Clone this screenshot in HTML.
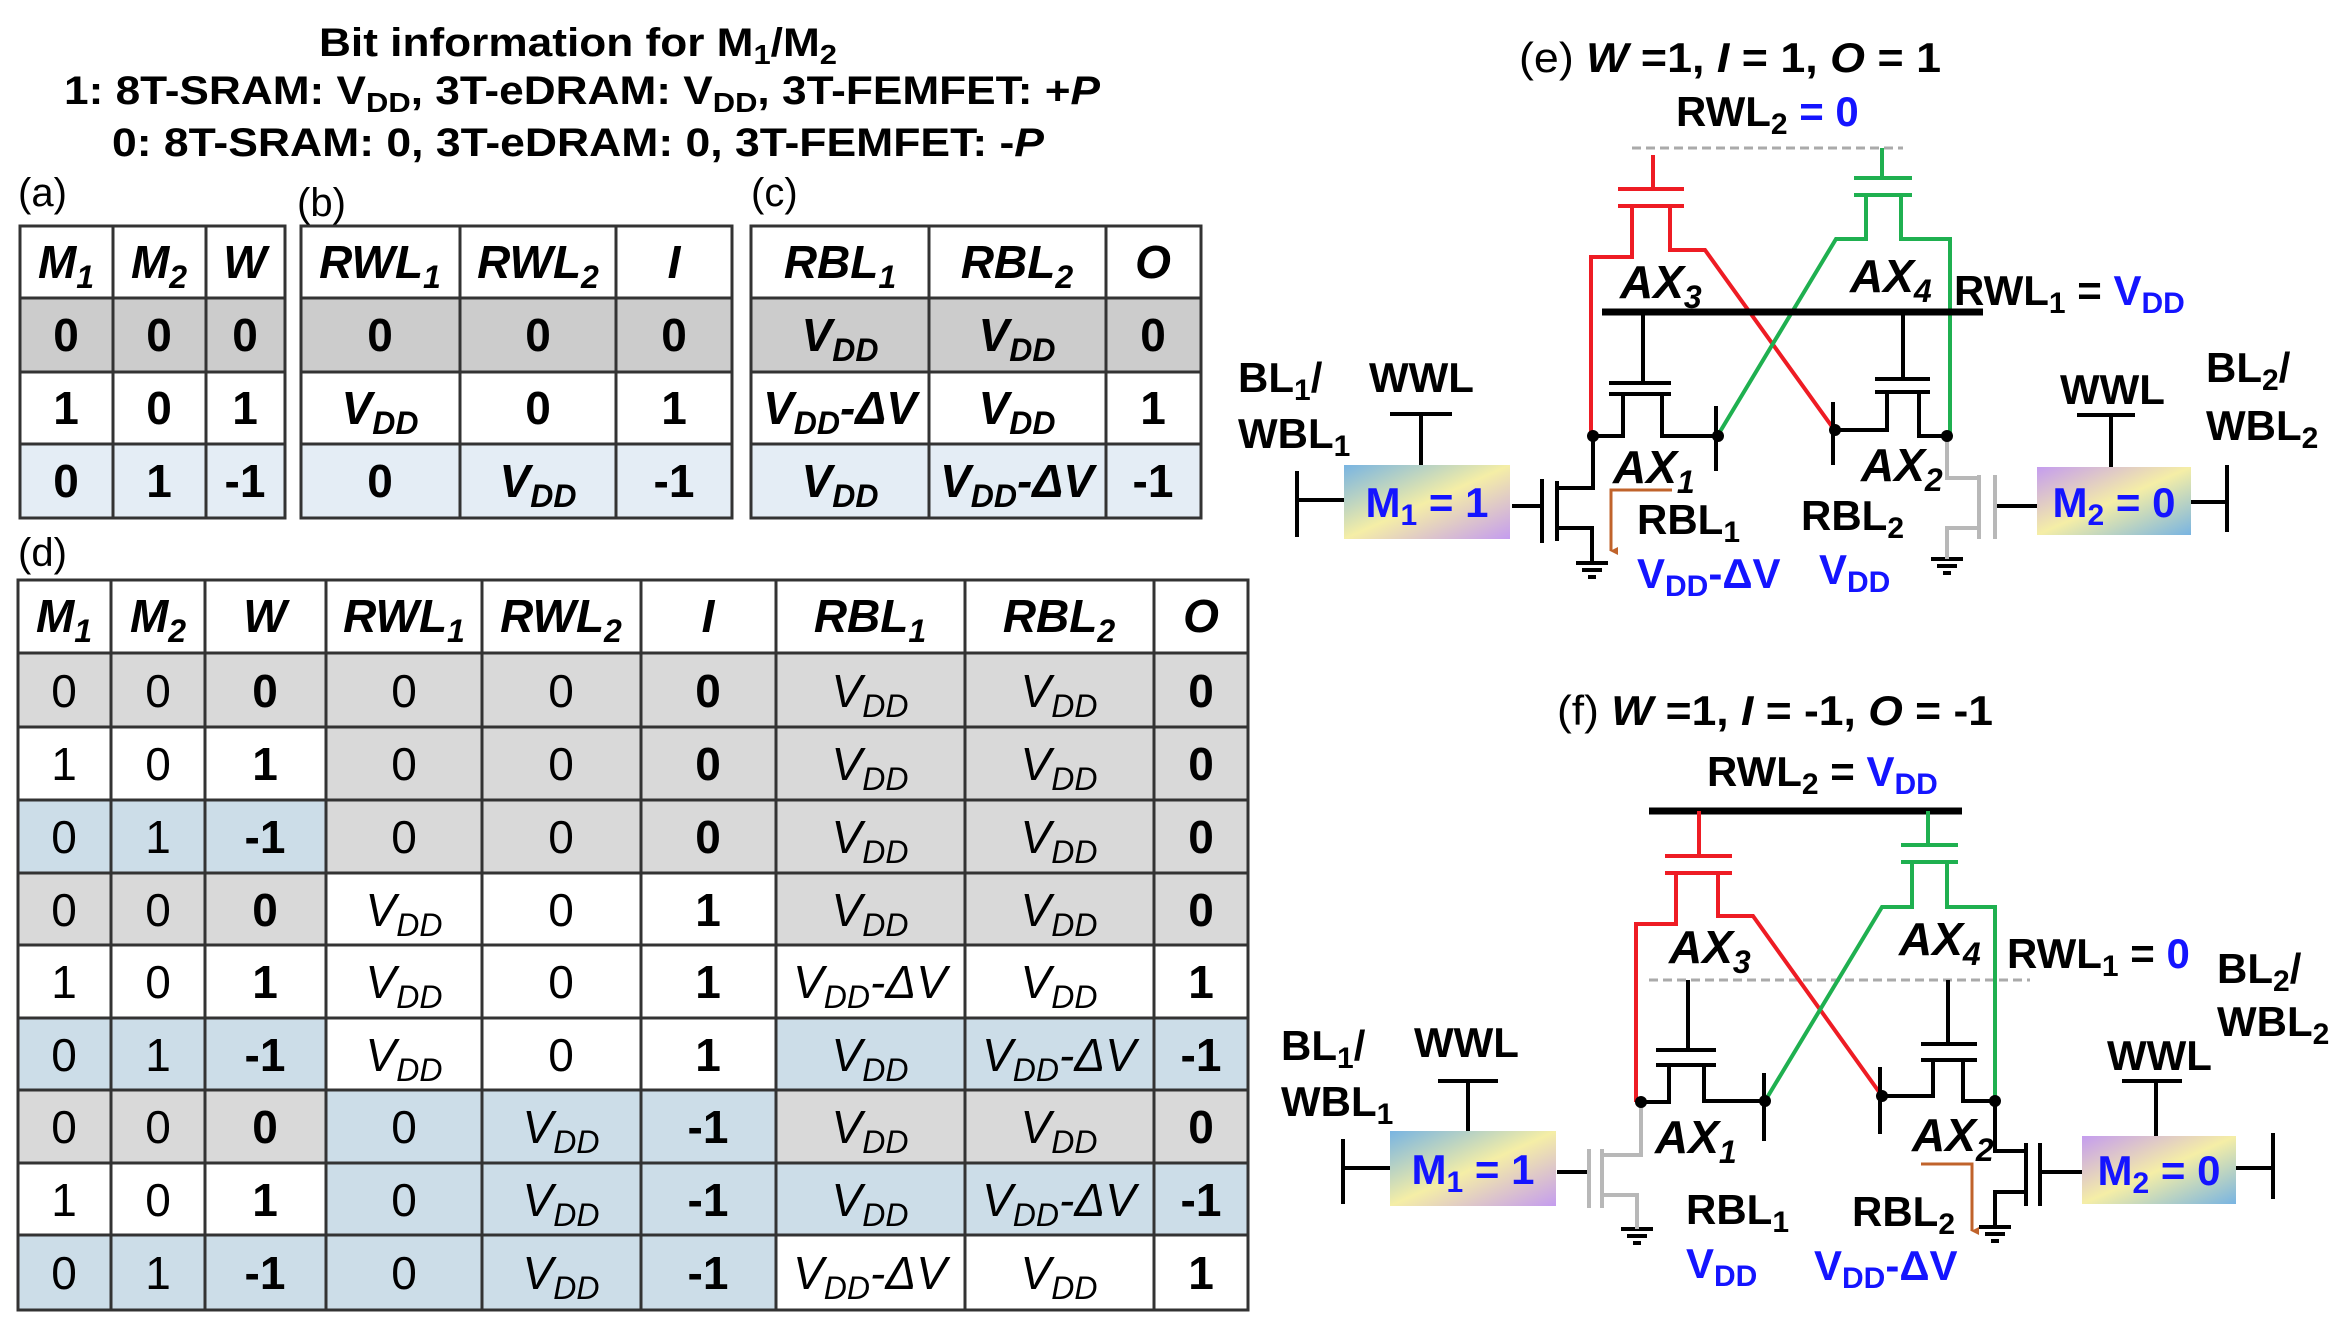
<!DOCTYPE html>
<html><head><meta charset="utf-8"><style>
html,body{margin:0;padding:0;background:#fff;}
svg{display:block;}
text{font-family:"Liberation Sans Narrow","Liberation Sans",sans-serif;font-weight:bold;fill:#000;}
.r{font-weight:normal;}
.it{font-style:italic;}
.b{fill:#1414ff;}
</style></head><body>
<svg width="2344" height="1321" viewBox="0 0 2344 1321" xmlns="http://www.w3.org/2000/svg">
<defs>
<linearGradient id="mg" x1="0" y1="0" x2="1" y2="1">
<stop offset="0" stop-color="#78b4e2"/><stop offset="0.5" stop-color="#f5eea6"/><stop offset="1" stop-color="#c49cef"/>
</linearGradient>
<marker id="ar" markerWidth="8" markerHeight="8" refX="4" refY="7" orient="auto" markerUnits="userSpaceOnUse"><path d="M0,0 L8,0 L4,8 z" fill="#c0632b"/></marker>
</defs>

<!-- Title -->
<text x="319" y="56" font-size="40" textLength="518" lengthAdjust="spacingAndGlyphs">Bit information for M<tspan dy="8" font-size="28">1</tspan><tspan dy="-8">/M</tspan><tspan dy="8" font-size="28">2</tspan></text>
<text x="64" y="104" font-size="40" textLength="1036" lengthAdjust="spacingAndGlyphs">1: 8T-SRAM: V<tspan dy="8" font-size="28">DD</tspan><tspan dy="-8">, 3T-eDRAM: V</tspan><tspan dy="8" font-size="28">DD</tspan><tspan dy="-8">, 3T-FEMFET: +</tspan><tspan class="it">P</tspan></text>
<text x="112" y="156" font-size="40" textLength="932" lengthAdjust="spacingAndGlyphs">0: 8T-SRAM: 0, 3T-eDRAM: 0, 3T-FEMFET: -<tspan class="it">P</tspan></text>

<text x="18" y="206" font-size="40" class="r">(a)</text>
<text x="297" y="216" font-size="40" class="r">(b)</text>
<text x="751" y="206" font-size="40" class="r">(c)</text>

<g>
<rect x="20" y="298" width="265" height="74" fill="#cccccc"/>
<rect x="301" y="298" width="431" height="74" fill="#cccccc"/>
<rect x="751" y="298" width="450" height="74" fill="#cccccc"/>
<rect x="20" y="444" width="265" height="74" fill="#e4edf5"/>
<rect x="301" y="444" width="431" height="74" fill="#e4edf5"/>
<rect x="751" y="444" width="450" height="74" fill="#e4edf5"/>
</g>
<g stroke="#333" stroke-width="3" fill="none">
<rect x="20" y="226" width="265" height="292"/>
<rect x="301" y="226" width="431" height="292"/>
<rect x="751" y="226" width="450" height="292"/>
<path d="M113 226V518M206 226V518M460 226V518M616 226V518M929 226V518M1106 226V518"/>
<path d="M20 298H285M20 372H285M20 444H285M301 298H732M301 372H732M301 444H732M751 298H1201M751 372H1201M751 444H1201"/>
</g>
<g font-size="46" text-anchor="middle">
<text x="66" y="278" class="it">M<tspan dy="10" font-size="32">1</tspan></text>
<text x="159" y="278" class="it">M<tspan dy="10" font-size="32">2</tspan></text>
<text x="245" y="278" class="it">W</text>
<text x="380" y="278" class="it">RWL<tspan dy="10" font-size="32">1</tspan></text>
<text x="538" y="278" class="it">RWL<tspan dy="10" font-size="32">2</tspan></text>
<text x="674" y="278" class="it">I</text>
<text x="840" y="278" class="it">RBL<tspan dy="10" font-size="32">1</tspan></text>
<text x="1017" y="278" class="it">RBL<tspan dy="10" font-size="32">2</tspan></text>
<text x="1153" y="278" class="it">O</text>

<text x="66" y="351">0</text><text x="159" y="351">0</text><text x="245" y="351">0</text>
<text x="380" y="351">0</text><text x="538" y="351">0</text><text x="674" y="351">0</text>
<text x="840" y="351" class="it">V<tspan dy="10" font-size="32">DD</tspan></text>
<text x="1017" y="351" class="it">V<tspan dy="10" font-size="32">DD</tspan></text>
<text x="1153" y="351">0</text>

<text x="66" y="424">1</text><text x="159" y="424">0</text><text x="245" y="424">1</text>
<text x="380" y="424" class="it">V<tspan dy="10" font-size="32">DD</tspan></text>
<text x="538" y="424">0</text><text x="674" y="424">1</text>
<text x="840" y="424" class="it">V<tspan dy="10" font-size="32">DD</tspan><tspan dy="-10">-ΔV</tspan></text>
<text x="1017" y="424" class="it">V<tspan dy="10" font-size="32">DD</tspan></text>
<text x="1153" y="424">1</text>

<text x="66" y="497">0</text><text x="159" y="497">1</text><text x="245" y="497">-1</text>
<text x="380" y="497">0</text>
<text x="538" y="497" class="it">V<tspan dy="10" font-size="32">DD</tspan></text>
<text x="674" y="497">-1</text>
<text x="840" y="497" class="it">V<tspan dy="10" font-size="32">DD</tspan></text>
<text x="1017" y="497" class="it">V<tspan dy="10" font-size="32">DD</tspan><tspan dy="-10">-ΔV</tspan></text>
<text x="1153" y="497">-1</text>
</g>

<!-- Table d -->
<text x="18" y="566" font-size="40" class="r">(d)</text>
<g>
<rect x="18" y="653" width="1230" height="74" fill="#d9d9d9"/>
<rect x="326" y="727" width="922" height="73" fill="#d9d9d9"/>
<rect x="18" y="800" width="308" height="73" fill="#ccdde8"/>
<rect x="326" y="800" width="922" height="73" fill="#d9d9d9"/>
<rect x="18" y="873" width="308" height="72" fill="#d9d9d9"/>
<rect x="776" y="873" width="472" height="72" fill="#d9d9d9"/>
<rect x="18" y="1018" width="308" height="72" fill="#ccdde8"/>
<rect x="776" y="1018" width="472" height="72" fill="#ccdde8"/>
<rect x="18" y="1090" width="308" height="73" fill="#d9d9d9"/>
<rect x="326" y="1090" width="450" height="73" fill="#ccdde8"/>
<rect x="776" y="1090" width="472" height="73" fill="#d9d9d9"/>
<rect x="326" y="1163" width="922" height="72" fill="#ccdde8"/>
<rect x="18" y="1235" width="758" height="75" fill="#ccdde8"/>
</g>
<g stroke="#333" stroke-width="3" fill="none">
<rect x="18" y="580" width="1230" height="730"/>
<path d="M111 580V1310M205 580V1310M326 580V1310M482 580V1310M641 580V1310M776 580V1310M965 580V1310M1154 580V1310"/>
<path d="M18 653H1248M18 727H1248M18 800H1248M18 873H1248M18 945H1248M18 1018H1248M18 1090H1248M18 1163H1248M18 1235H1248"/>
</g>
<g font-size="46" text-anchor="middle">
<text x="64" y="632" class="it">M<tspan dy="10" font-size="32">1</tspan></text>
<text x="158" y="632" class="it">M<tspan dy="10" font-size="32">2</tspan></text>
<text x="265" y="632" class="it">W</text>
<text x="404" y="632" class="it">RWL<tspan dy="10" font-size="32">1</tspan></text>
<text x="561" y="632" class="it">RWL<tspan dy="10" font-size="32">2</tspan></text>
<text x="708" y="632" class="it">I</text>
<text x="870" y="632" class="it">RBL<tspan dy="10" font-size="32">1</tspan></text>
<text x="1059" y="632" class="it">RBL<tspan dy="10" font-size="32">2</tspan></text>
<text x="1201" y="632" class="it">O</text>
</g>
<g font-size="46" text-anchor="middle">
<text x="64" y="707" class="r">0</text><text x="158" y="707" class="r">0</text><text x="265" y="707">0</text>
<text x="404" y="707" class="r">0</text><text x="561" y="707" class="r">0</text><text x="708" y="707">0</text>
<text x="870" y="707" class="r it">V<tspan dy="10" font-size="32">DD</tspan></text>
<text x="1059" y="707" class="r it">V<tspan dy="10" font-size="32">DD</tspan></text>
<text x="1201" y="707">0</text>
<text x="64" y="780" class="r">1</text><text x="158" y="780" class="r">0</text><text x="265" y="780">1</text>
<text x="404" y="780" class="r">0</text><text x="561" y="780" class="r">0</text><text x="708" y="780">0</text>
<text x="870" y="780" class="r it">V<tspan dy="10" font-size="32">DD</tspan></text>
<text x="1059" y="780" class="r it">V<tspan dy="10" font-size="32">DD</tspan></text>
<text x="1201" y="780">0</text>
<text x="64" y="853" class="r">0</text><text x="158" y="853" class="r">1</text><text x="265" y="853">-1</text>
<text x="404" y="853" class="r">0</text><text x="561" y="853" class="r">0</text><text x="708" y="853">0</text>
<text x="870" y="853" class="r it">V<tspan dy="10" font-size="32">DD</tspan></text>
<text x="1059" y="853" class="r it">V<tspan dy="10" font-size="32">DD</tspan></text>
<text x="1201" y="853">0</text>
<text x="64" y="926" class="r">0</text><text x="158" y="926" class="r">0</text><text x="265" y="926">0</text>
<text x="404" y="926" class="r it">V<tspan dy="10" font-size="32">DD</tspan></text>
<text x="561" y="926" class="r">0</text><text x="708" y="926">1</text>
<text x="870" y="926" class="r it">V<tspan dy="10" font-size="32">DD</tspan></text>
<text x="1059" y="926" class="r it">V<tspan dy="10" font-size="32">DD</tspan></text>
<text x="1201" y="926">0</text>
<text x="64" y="998" class="r">1</text><text x="158" y="998" class="r">0</text><text x="265" y="998">1</text>
<text x="404" y="998" class="r it">V<tspan dy="10" font-size="32">DD</tspan></text>
<text x="561" y="998" class="r">0</text><text x="708" y="998">1</text>
<text x="870" y="998" class="r it">V<tspan dy="10" font-size="32">DD</tspan><tspan dy="-10">-ΔV</tspan></text>
<text x="1059" y="998" class="r it">V<tspan dy="10" font-size="32">DD</tspan></text>
<text x="1201" y="998">1</text>
<text x="64" y="1071" class="r">0</text><text x="158" y="1071" class="r">1</text><text x="265" y="1071">-1</text>
<text x="404" y="1071" class="r it">V<tspan dy="10" font-size="32">DD</tspan></text>
<text x="561" y="1071" class="r">0</text><text x="708" y="1071">1</text>
<text x="870" y="1071" class="r it">V<tspan dy="10" font-size="32">DD</tspan></text>
<text x="1059" y="1071" class="r it">V<tspan dy="10" font-size="32">DD</tspan><tspan dy="-10">-ΔV</tspan></text>
<text x="1201" y="1071">-1</text>
<text x="64" y="1143" class="r">0</text><text x="158" y="1143" class="r">0</text><text x="265" y="1143">0</text>
<text x="404" y="1143" class="r">0</text>
<text x="561" y="1143" class="r it">V<tspan dy="10" font-size="32">DD</tspan></text>
<text x="708" y="1143">-1</text>
<text x="870" y="1143" class="r it">V<tspan dy="10" font-size="32">DD</tspan></text>
<text x="1059" y="1143" class="r it">V<tspan dy="10" font-size="32">DD</tspan></text>
<text x="1201" y="1143">0</text>
<text x="64" y="1216" class="r">1</text><text x="158" y="1216" class="r">0</text><text x="265" y="1216">1</text>
<text x="404" y="1216" class="r">0</text>
<text x="561" y="1216" class="r it">V<tspan dy="10" font-size="32">DD</tspan></text>
<text x="708" y="1216">-1</text>
<text x="870" y="1216" class="r it">V<tspan dy="10" font-size="32">DD</tspan></text>
<text x="1059" y="1216" class="r it">V<tspan dy="10" font-size="32">DD</tspan><tspan dy="-10">-ΔV</tspan></text>
<text x="1201" y="1216">-1</text>
<text x="64" y="1289" class="r">0</text><text x="158" y="1289" class="r">1</text><text x="265" y="1289">-1</text>
<text x="404" y="1289" class="r">0</text>
<text x="561" y="1289" class="r it">V<tspan dy="10" font-size="32">DD</tspan></text>
<text x="708" y="1289">-1</text>
<text x="870" y="1289" class="r it">V<tspan dy="10" font-size="32">DD</tspan><tspan dy="-10">-ΔV</tspan></text>
<text x="1059" y="1289" class="r it">V<tspan dy="10" font-size="32">DD</tspan></text>
<text x="1201" y="1289">1</text>
</g>

<!-- ===== (e) circuit ===== -->
<text x="1519" y="72" font-size="42" textLength="422" lengthAdjust="spacingAndGlyphs"><tspan class="r">(e)</tspan>  <tspan class="it">W</tspan> =1, <tspan class="it">I</tspan> = 1, <tspan class="it">O</tspan> = 1</text>
<text x="1676" y="126" font-size="42">RWL<tspan dy="8" font-size="30">2</tspan><tspan dy="-8" class="b"> = 0</tspan></text>
<path d="M1632 148H1903" stroke="#aaa" stroke-width="3" stroke-dasharray="9,5"/>
<g fill="none" stroke-width="4">
<g stroke="#ee1c24">
<path d="M1653 155V189M1618 189H1684M1618 206H1684"/>
<path d="M1632 206V257H1591V436M1670 206V250H1705L1833 428"/>
</g>
<g stroke="#1fb050">
<path d="M1882 148V178M1854 178H1912M1854 195H1912"/>
<path d="M1866 195V239H1836L1718 435M1901 195V239H1950V436"/>
</g>
<g stroke="#000">
<path d="M1602 312H1983" stroke-width="7"/>
<path d="M1643 312V383M1609 383H1671M1609 394H1671M1623 394V436H1593M1662 394V436H1718M1716 406V471"/>
<path d="M1903 312V379M1875 379H1930M1875 392H1930M1887 392V430H1835M1919 392V436H1947M1833 402V465"/>
<path d="M1593 436V488H1557M1557 481V541M1542 479V543M1512 506H1542M1557 528H1592V563"/>
<path d="M1576 563H1608M1582 570H1602M1588 577H1596"/>
<path d="M1297 471V537M1297 500H1344M1390 414H1452M1421 414V465"/>
<path d="M1995 506H2037M2191 502H2227M2227 465V532M2077 415H2135M2111 415V467"/>
<path d="M1931 559H1963M1937 566H1957M1943 573H1951"/>
</g>
<g stroke="#b8b8b8">
<path d="M1947 436V478H1979M1979 475V539M1995 475V539M1979 528H1947V559"/>
</g>
<path d="M1672 490H1611V551" stroke="#c0632b" stroke-width="3" marker-end="url(#ar)"/>
</g>
<g fill="#000"><circle cx="1593" cy="436" r="6"/><circle cx="1718" cy="436" r="6"/><circle cx="1835" cy="430" r="6"/><circle cx="1947" cy="436" r="6"/></g>
<rect x="1344" y="465" width="166" height="74" fill="url(#mg)"/>
<rect x="2037" y="467" width="154" height="68" fill="url(#mg)" transform="rotate(180 2114 501)"/>
<text x="1427" y="517" font-size="42" text-anchor="middle" class="b">M<tspan dy="8" font-size="30">1</tspan><tspan dy="-8"> = 1</tspan></text>
<text x="2114" y="517" font-size="42" text-anchor="middle" class="b">M<tspan dy="8" font-size="30">2</tspan><tspan dy="-8"> = 0</tspan></text>
<text x="1620" y="298" font-size="46" class="it">AX<tspan dy="10" font-size="32">3</tspan></text>
<text x="1850" y="292" font-size="46" class="it">AX<tspan dy="10" font-size="32">4</tspan></text>
<text x="1954" y="305" font-size="42">RWL<tspan dy="8" font-size="30">1</tspan><tspan dy="-8"> = </tspan><tspan class="b">V</tspan><tspan dy="8" font-size="30" class="b">DD</tspan></text>
<text x="1238" y="392" font-size="42">BL<tspan dy="8" font-size="30">1</tspan><tspan dy="-8">/</tspan></text>
<text x="1238" y="448" font-size="42">WBL<tspan dy="8" font-size="30">1</tspan></text>
<text x="1369" y="392" font-size="42">WWL</text>
<text x="2060" y="404" font-size="42">WWL</text>
<text x="2206" y="382" font-size="42">BL<tspan dy="8" font-size="30">2</tspan><tspan dy="-8">/</tspan></text>
<text x="2206" y="440" font-size="42">WBL<tspan dy="8" font-size="30">2</tspan></text>
<text x="1613" y="483" font-size="46" class="it">AX<tspan dy="10" font-size="32">1</tspan></text>
<text x="1861" y="481" font-size="46" class="it">AX<tspan dy="10" font-size="32">2</tspan></text>
<text x="1637" y="534" font-size="42">RBL<tspan dy="8" font-size="30">1</tspan></text>
<text x="1801" y="530" font-size="42">RBL<tspan dy="8" font-size="30">2</tspan></text>
<text x="1637" y="588" font-size="42" class="b">V<tspan dy="8" font-size="30">DD</tspan><tspan dy="-8">-ΔV</tspan></text>
<text x="1819" y="584" font-size="42" class="b">V<tspan dy="8" font-size="30">DD</tspan></text>

<!-- ===== (f) circuit ===== -->
<text x="1557" y="725" font-size="42" textLength="436" lengthAdjust="spacingAndGlyphs"><tspan class="r">(f)</tspan>  <tspan class="it">W</tspan> =1, <tspan class="it">I</tspan> = -1, <tspan class="it">O</tspan> = -1</text>
<text x="1707" y="786" font-size="42">RWL<tspan dy="8" font-size="30">2</tspan><tspan dy="-8"> = </tspan><tspan class="b">V</tspan><tspan dy="8" font-size="30" class="b">DD</tspan></text>
<path d="M1649 980H2030" stroke="#aaa" stroke-width="3" stroke-dasharray="9,5"/>
<g fill="none" stroke-width="4">
<path d="M1649 811H1962" stroke="#000" stroke-width="7"/>
<g stroke="#ee1c24">
<path d="M1699 811V856M1665 856H1732M1665 873H1732"/>
<path d="M1676 873V924H1636V1102M1718 873V916H1753L1882 1096"/>
</g>
<g stroke="#1fb050">
<path d="M1928 811V845M1901 845H1958M1901 862H1958"/>
<path d="M1912 862V907H1882L1765 1101M1947 862V907H1995V1101"/>
</g>
<g stroke="#000">
<path d="M1688 980V1050M1656 1050H1716M1656 1065H1716M1669 1065V1102H1641M1704 1065V1101H1765M1764 1073V1141"/>
<path d="M1948 980V1044M1921 1044H1977M1921 1060H1977M1933 1060V1096H1882M1963 1060V1101H1993M1880 1067V1134"/>
<path d="M1995 1101V1151H2026M2026 1143V1206M2040 1143V1206M2040 1172H2082M2026 1192H1995V1227"/>
<path d="M1979 1227H2011M1985 1234H2005M1991 1241H1999"/>
<path d="M1621 1229H1653M1627 1236H1647M1633 1243H1641"/>
<path d="M1557 1172H1589M1343 1139V1204M1343 1168H1390M1438 1081H1498M1468 1081V1131"/>
<path d="M2236 1168H2273M2273 1133V1199M2122 1081H2182M2156 1081V1136"/>
</g>
<g stroke="#b8b8b8">
<path d="M1641 1102V1155H1602M1602 1149V1208M1589 1149V1208M1602 1195H1637V1229"/>
</g>
<path d="M1921 1164H1972V1231" stroke="#c0632b" stroke-width="3" marker-end="url(#ar)"/>
</g>
<g fill="#000"><circle cx="1641" cy="1102" r="6"/><circle cx="1765" cy="1101" r="6"/><circle cx="1882" cy="1096" r="6"/><circle cx="1995" cy="1101" r="6"/></g>
<rect x="1390" y="1131" width="166" height="75" fill="url(#mg)"/>
<rect x="2082" y="1136" width="154" height="68" fill="url(#mg)" transform="rotate(180 2159 1170)"/>
<text x="1473" y="1184" font-size="42" text-anchor="middle" class="b">M<tspan dy="8" font-size="30">1</tspan><tspan dy="-8"> = 1</tspan></text>
<text x="2159" y="1185" font-size="42" text-anchor="middle" class="b">M<tspan dy="8" font-size="30">2</tspan><tspan dy="-8"> = 0</tspan></text>
<text x="1669" y="963" font-size="46" class="it">AX<tspan dy="10" font-size="32">3</tspan></text>
<text x="1899" y="955" font-size="46" class="it">AX<tspan dy="10" font-size="32">4</tspan></text>
<text x="2007" y="968" font-size="42">RWL<tspan dy="8" font-size="30">1</tspan><tspan dy="-8"> = </tspan><tspan class="b">0</tspan></text>
<text x="2217" y="983" font-size="42">BL<tspan dy="8" font-size="30">2</tspan><tspan dy="-8">/</tspan></text>
<text x="2217" y="1036" font-size="42">WBL<tspan dy="8" font-size="30">2</tspan></text>
<text x="1281" y="1060" font-size="42">BL<tspan dy="8" font-size="30">1</tspan><tspan dy="-8">/</tspan></text>
<text x="1281" y="1116" font-size="42">WBL<tspan dy="8" font-size="30">1</tspan></text>
<text x="1414" y="1057" font-size="42">WWL</text>
<text x="2107" y="1070" font-size="42">WWL</text>
<text x="1655" y="1153" font-size="46" class="it">AX<tspan dy="10" font-size="32">1</tspan></text>
<text x="1912" y="1151" font-size="46" class="it">AX<tspan dy="10" font-size="32">2</tspan></text>
<text x="1686" y="1224" font-size="42">RBL<tspan dy="8" font-size="30">1</tspan></text>
<text x="1852" y="1226" font-size="42">RBL<tspan dy="8" font-size="30">2</tspan></text>
<text x="1686" y="1278" font-size="42" class="b">V<tspan dy="8" font-size="30">DD</tspan></text>
<text x="1814" y="1280" font-size="42" class="b">V<tspan dy="8" font-size="30">DD</tspan><tspan dy="-8">-ΔV</tspan></text>
</svg>
</body></html>
